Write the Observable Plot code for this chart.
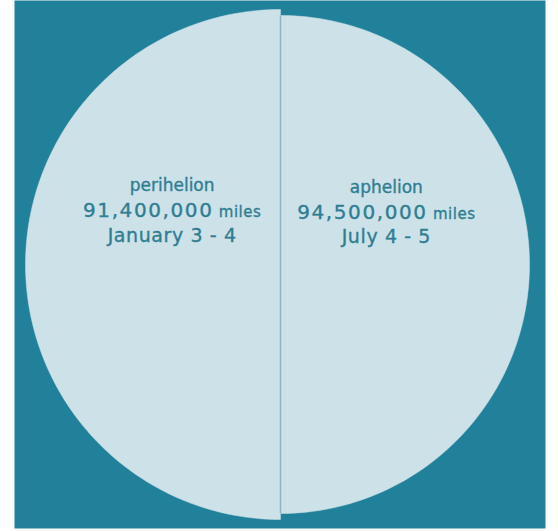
<!DOCTYPE html>
<html>
<head>
<meta charset="utf-8">
<script src="https://cdn.jsdelivr.net/npm/d3@7"></script>
<script src="https://cdn.jsdelivr.net/npm/@observablehq/plot@0.6"></script>
<style>
  html, body { margin: 0; padding: 0; background: #ffffff; }
  #chart svg { display: block; }
</style>
</head>
<body>
<div id="chart"></div>
<script>
// Data
const categories = ["perihelion", "aphelion"];
const distances = [91400000, 94500000];
const distanceLabels = ["91,400,000", "94,500,000"];
const dates = ["January 3 - 4", "July 4 - 5"];
const shares = [1, 1];

const rows = categories.map((c, i) => ({
  category: c, distance: distances[i], distLabel: distanceLabels[i] + " miles",
  date: dates[i], share: shares[i]
}));

const pie = d3.pie().sort(null).value(d => d.share).startAngle(Math.PI).endAngle(3 * Math.PI);
const arcs = pie(rows);
const radius = d3.scaleLinear().domain(d3.extent(distances)).range([255, 249]);

const poly = arcs.flatMap(a => {
  const r = radius(a.data.distance);
  const pts = [{slice: a.data.category, x: 0, y: 0}];
  const n = 120;
  for (let i = 0; i <= n; i++) {
    const t = a.startAngle + (a.endAngle - a.startAngle) * i / n;
    pts.push({slice: a.data.category, x: r * Math.sin(t), y: r * Math.cos(t)});
  }
  pts.push({slice: a.data.category, x: 0, y: 0});
  return pts;
});

const edges = arcs.filter(a => a.data.category === "aphelion").map(a => {
  const r = radius(a.data.distance);
  return {x1: r * Math.sin(a.startAngle) , y1: r * Math.cos(a.startAngle), x2: r * Math.sin(a.endAngle), y2: r * Math.cos(a.endAngle)};
});

const labels = arcs.map(a => {
  const r = radius(a.data.distance);
  const mid = (a.startAngle + a.endAngle) / 2;
  return {...a.data, lx: 0.425 * r * Math.sin(mid), ly: 0.21 * r};
});

const textColor = "#2e7e93";
const font = "'Comic Sans MS', 'DejaVu Sans', sans-serif";
const textStyle = {fill: textColor, stroke: textColor, strokeWidth: 0.35};

const chart = Plot.plot({
  width: 558,
  height: 531,
  marginLeft: 14,
  marginRight: 13,
  marginTop: 0,
  marginBottom: 3,
  x: {domain: [-266, 265], axis: null},
  y: {domain: [-264, 264], axis: null},
  style: {background: "#ffffff", fontFamily: font},
  marks: [
    Plot.frame({fill: "#21809a", stroke: null}),
    Plot.line(poly, {x: "x", y: "y", z: "slice", fill: "#cde1e8", stroke: "#cde1e8", strokeWidth: 0.5, curve: "linear"}),
    Plot.link(edges, {x1: "x1", y1: "y1", x2: "x2", y2: "y2", stroke: "#8ab6c4", strokeWidth: 1.5}),
    Plot.text(labels, {x: "lx", y: "ly", text: "category", dy: -25, fontSize: 17, className: "l1", ...textStyle}),
    Plot.text(labels, {x: "lx", y: "ly", text: "distLabel", fontSize: 20, className: "l2", ...textStyle}),
    Plot.text(labels, {x: "lx", y: "ly", text: "date", dy: 25, fontSize: 19, className: "l3", ...textStyle})
  ]
});

chart.querySelectorAll(".l2 text").forEach(t => t.setAttribute("letter-spacing", "1.6"));
chart.querySelectorAll(".l3 text").forEach(t => t.setAttribute("letter-spacing", "0.6"));

// render "miles" smaller
chart.querySelectorAll("text").forEach(t => {
  const s = t.textContent;
  if (s.endsWith(" miles") && t.children.length === 0) {
    t.textContent = s.slice(0, -6);
    const ts = document.createElementNS("http://www.w3.org/2000/svg", "tspan");
    ts.setAttribute("font-size", "15");
    ts.setAttribute("letter-spacing", "0.5");
    ts.textContent = " miles";
    t.appendChild(ts);
  }
});

document.getElementById("chart").appendChild(chart);
</script>
</body>
</html>
